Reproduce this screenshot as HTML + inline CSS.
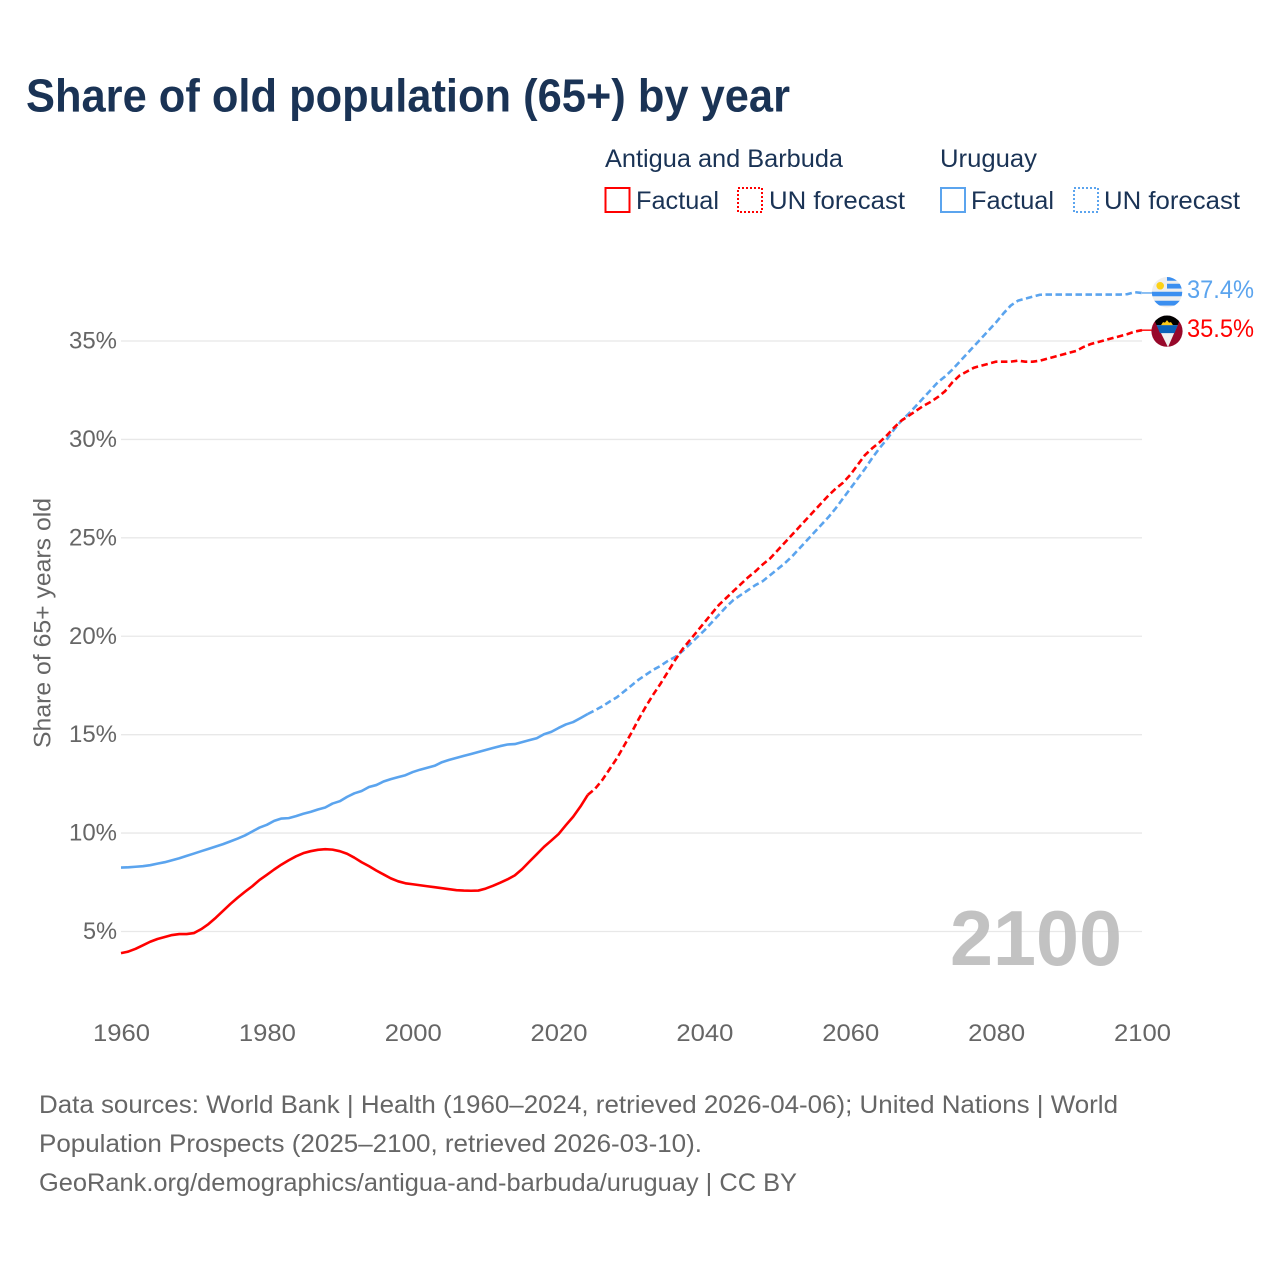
<!DOCTYPE html>
<html lang="en">
<head>
<meta charset="utf-8">
<title>Share of old population (65+) by year</title>
<style>
html,body{margin:0;padding:0;background:#fff;width:1280px;height:1280px;overflow:hidden}
svg{display:block}
text{font-family:"Liberation Sans",sans-serif}
</style>
</head>
<body>
<svg id="chart" xmlns="http://www.w3.org/2000/svg" width="1280" height="1280" viewBox="0 0 1280 1280">
  <defs>
    <clipPath id="flag-clip-uy"><circle cx="0" cy="0" r="15.2"/></clipPath>
    <clipPath id="flag-clip-ag"><circle cx="0" cy="0" r="15.6"/></clipPath>
  </defs>
  <rect width="1280" height="1280" fill="#fff"/>
  <text x="26" y="111.500" font-size="46" font-weight="700" fill="#1a3355" textLength="764" lengthAdjust="spacingAndGlyphs">Share of old population (65+) by year</text>

  <g font-size="25" fill="#1a3355">
    <text x="605" y="167" textLength="238" lengthAdjust="spacingAndGlyphs">Antigua and Barbuda</text>
    <text x="940" y="167" textLength="97" lengthAdjust="spacingAndGlyphs">Uruguay</text>
    <rect x="605.500" y="188" width="24" height="24" fill="none" stroke="#ff0000" stroke-width="2"/>
    <text x="636" y="209" textLength="83" lengthAdjust="spacingAndGlyphs">Factual</text>
    <rect x="738" y="188" width="24" height="24" fill="none" stroke="#ff0000" stroke-width="2" stroke-dasharray="2 2"/>
    <text x="769" y="209" textLength="136" lengthAdjust="spacingAndGlyphs">UN forecast</text>
    <rect x="941" y="188" width="24" height="24" fill="none" stroke="#5ba4ee" stroke-width="2"/>
    <text x="971" y="209" textLength="83" lengthAdjust="spacingAndGlyphs">Factual</text>
    <rect x="1074" y="188" width="24" height="24" fill="none" stroke="#5ba4ee" stroke-width="2" stroke-dasharray="2 2"/>
    <text x="1104" y="209" textLength="136" lengthAdjust="spacingAndGlyphs">UN forecast</text>
  </g>

  <text transform="translate(50.500 623) rotate(-90)" text-anchor="middle" font-size="24.500" fill="#666" textLength="250" lengthAdjust="spacingAndGlyphs">Share of 65+ years old</text>

  <g id="grid"></g>
  <text x="950" y="965" font-size="78" font-weight="700" fill="#bfbfbf" fill-opacity="0.95" textLength="172" lengthAdjust="spacingAndGlyphs">2100</text>
  <g id="y-ticks"></g>
  <g id="x-ticks"></g>
  <g id="series"></g>

  <g id="flag-uy">
    <g clip-path="url(#flag-clip-uy)">
      <rect x="-16" y="-16" width="32" height="32" fill="#eeeeee"/>
      <rect x="0" y="-16" width="16" height="4.500" fill="#3b8ff0"/>
      <rect x="0" y="-8.500" width="16" height="4.800" fill="#3b8ff0"/>
      <rect x="-16" y="-0.500" width="32" height="4.500" fill="#3b8ff0"/>
      <rect x="-16" y="8.500" width="32" height="4.800" fill="#3b8ff0"/>
      <circle cx="-6.800" cy="-6.500" r="3.800" fill="#fcd116"/>
    </g>
  </g>
  <g id="flag-ag">
    <g clip-path="url(#flag-clip-ag)">
      <rect x="-17" y="-17" width="34" height="34" fill="#97082a"/>
      <polygon points="-15,-16 15,-16 1,16" fill="#f0f0f0"/>
      <polygon points="-15,-16 15,-16 10.700,-6 -10.400,-6" fill="#000"/>
      <polygon points="-10.400,-6 10.700,-6 7.500,2 -7,2" fill="#0a62b8"/>
      <polygon points="-6,-6 -4,-9 -2,-8.500 0,-11 2,-8.500 4,-9 6,-6" fill="#fcc916"/>
    </g>
  </g>
  <g id="end-labels"></g>

  <g font-size="25" fill="#666">
    <text x="39" y="1113" textLength="1079" lengthAdjust="spacingAndGlyphs">Data sources: World Bank | Health (1960–2024, retrieved 2026-04-06); United Nations | World</text>
    <text x="39" y="1152" textLength="663" lengthAdjust="spacingAndGlyphs">Population Prospects (2025–2100, retrieved 2026-03-10).</text>
    <text x="39" y="1191" textLength="758" lengthAdjust="spacingAndGlyphs">GeoRank.org/demographics/antigua-and-barbuda/uruguay | CC BY</text>
  </g>
</svg>
<script>
const years = [1960,1961,1962,1963,1964,1965,1966,1967,1968,1969,1970,1971,1972,1973,1974,1975,1976,1977,1978,1979,1980,1981,1982,1983,1984,1985,1986,1987,1988,1989,1990,1991,1992,1993,1994,1995,1996,1997,1998,1999,2000,2001,2002,2003,2004,2005,2006,2007,2008,2009,2010,2011,2012,2013,2014,2015,2016,2017,2018,2019,2020,2021,2022,2023,2024,2025,2026,2027,2028,2029,2030,2031,2032,2033,2034,2035,2036,2037,2038,2039,2040,2041,2042,2043,2044,2045,2046,2047,2048,2049,2050,2051,2052,2053,2054,2055,2056,2057,2058,2059,2060,2061,2062,2063,2064,2065,2066,2067,2068,2069,2070,2071,2072,2073,2074,2075,2076,2077,2078,2079,2080,2081,2082,2083,2084,2085,2086,2087,2088,2089,2090,2091,2092,2093,2094,2095,2096,2097,2098,2099,2100];
const uruguayShare = [8.25,8.26,8.29,8.32,8.37,8.45,8.52,8.62,8.72,8.84,8.96,9.08,9.2,9.32,9.44,9.58,9.72,9.88,10.08,10.28,10.42,10.62,10.74,10.76,10.86,10.98,11.08,11.2,11.3,11.5,11.62,11.84,12.02,12.14,12.34,12.44,12.62,12.74,12.84,12.94,13.1,13.22,13.32,13.42,13.6,13.72,13.82,13.92,14.02,14.12,14.22,14.32,14.42,14.5,14.52,14.62,14.72,14.82,15.02,15.14,15.34,15.52,15.64,15.84,16.05,16.24,16.44,16.68,16.9,17.2,17.5,17.8,18.05,18.3,18.5,18.75,18.95,19.25,19.6,19.95,20.3,20.7,21.1,21.5,21.85,22.1,22.35,22.6,22.8,23.1,23.4,23.7,24.05,24.45,24.85,25.25,25.65,26.05,26.5,27.0,27.5,28,28.5,29.05,29.55,30.0,30.5,30.95,31.3,31.7,32.1,32.5,32.9,33.2,33.55,33.95,34.35,34.75,35.15,35.55,35.95,36.4,36.8,37.05,37.15,37.25,37.35,37.36,37.36,37.36,37.36,37.36,37.36,37.36,37.36,37.36,37.36,37.36,37.38,37.48,37.44];
const antiguaShare = [3.9,3.98,4.12,4.3,4.48,4.62,4.72,4.82,4.87,4.87,4.92,5.12,5.38,5.7,6.05,6.4,6.72,7.02,7.3,7.62,7.88,8.15,8.4,8.62,8.82,8.98,9.08,9.15,9.18,9.16,9.08,8.95,8.75,8.52,8.32,8.1,7.9,7.7,7.55,7.45,7.4,7.35,7.3,7.25,7.2,7.15,7.1,7.08,7.07,7.08,7.18,7.32,7.48,7.65,7.85,8.17,8.55,8.92,9.3,9.62,9.95,10.4,10.83,11.35,11.94,12.25,12.7,13.25,13.8,14.45,15.1,15.8,16.45,17.05,17.6,18.2,18.8,19.35,19.8,20.25,20.7,21.15,21.6,21.95,22.3,22.65,23,23.3,23.65,23.95,24.35,24.75,25.15,25.55,25.95,26.35,26.75,27.15,27.5,27.8,28.2,28.7,29.2,29.55,29.85,30.2,30.6,30.95,31.2,31.45,31.7,31.9,32.15,32.45,32.9,33.25,33.45,33.65,33.75,33.85,33.95,33.95,33.95,34.0,33.95,33.95,34.0,34.1,34.2,34.3,34.4,34.5,34.7,34.85,34.95,35.05,35.15,35.25,35.35,35.48,35.55];
const yTickValues = [5,10,15,20,25,30,35];
const xTickValues = [1960,1980,2000,2020,2040,2060,2080,2100];
const lastFactualYear = 2024;
const endValues = [37.4,35.5];

const SVG_NS = 'http://www.w3.org/2000/svg';
function xScale(year){ return 121 + (year - 1960) * (1142 - 121) / 140; }
function yScale(v){ return 931.5 - (v - 5) * (931.5 - 341) / 30; }
function make(tag, parent, attrs){
  const el = document.createElementNS(SVG_NS, tag);
  for (const k in attrs) el.setAttribute(k, attrs[k]);
  parent.appendChild(el);
  return el;
}
function pathFor(values, keep){
  let d = '';
  values.forEach(function(v, i){
    if (keep(years[i])) d += (d ? 'L' : 'M') + xScale(years[i]).toFixed(2) + ' ' + yScale(v).toFixed(2);
  });
  return d;
}

const grid = document.getElementById('grid');
const yTicks = document.getElementById('y-ticks');
yTickValues.forEach(function(v){
  const line = make('line', grid, {x1:xScale(1960), x2:xScale(2100), y1:yScale(v), y2:yScale(v), stroke:'#e8e8e8', 'stroke-width':1.3});
  
  
  const label = make('text', yTicks, {x:69, y:yScale(v) + 7.5, 'font-size':24.5, fill:'#666', textLength: v < 10 ? 34 : 48, lengthAdjust:'spacingAndGlyphs'});
  if (v < 10) label.setAttribute('x', 83);
  
  
  label.textContent = v + '%';
});

const xTicks = document.getElementById('x-ticks');
xTickValues.forEach(function(y){
  const label = make('text', xTicks, {x:xScale(y) - 28, y:1041, 'font-size':24.5, fill:'#666', textLength:57, lengthAdjust:'spacingAndGlyphs'});
  
  
  label.textContent = y;
});

const seriesGroup = document.getElementById('series');
function drawSeries(values, color, key){
  const common = {fill:'none', stroke:color, 'stroke-width':2.6, 'stroke-linejoin':'round'};
  const solid = make('path', seriesGroup, Object.assign({d:pathFor(values, function(y){return y <= lastFactualYear;})}, common));
  
  
  const dashed = make('path', seriesGroup, Object.assign({d:pathFor(values, function(y){return y >= lastFactualYear;}), 'stroke-dasharray':'6.5 3.5'}, common));
  
  
  const lastY = yScale(values[values.length - 1]);
  const lead = make('line', seriesGroup, {x1:xScale(2100), x2:1155, y1:lastY, y2:lastY, stroke:color, 'stroke-width':1.4});
  
  
}
drawSeries(uruguayShare, '#5ba4ee', 'uruguay');
drawSeries(antiguaShare, '#ff0000', 'antigua');

const endLabels = document.getElementById('end-labels');
const endColors = ['#5ba4ee', '#ff0000'];
const endKeys = ['uruguay', 'antigua'];
const flagShift = [-1.5, 0];
const textShift = [4, 6];
endValues.forEach(function(v, i){
  const y = yScale(v);
  const label = make('text', endLabels, {x:1187, y:y + textShift[i], 'font-size':25, fill:endColors[i], textLength:67, lengthAdjust:'spacingAndGlyphs'});
  
  
  label.textContent = v.toFixed(1) + '%';
  const flag = document.getElementById(i === 0 ? 'flag-uy' : 'flag-ag');
  flag.setAttribute('transform', 'translate(1167 ' + (y + flagShift[i]).toFixed(2) + ')');
});
</script>
</body>
</html>
